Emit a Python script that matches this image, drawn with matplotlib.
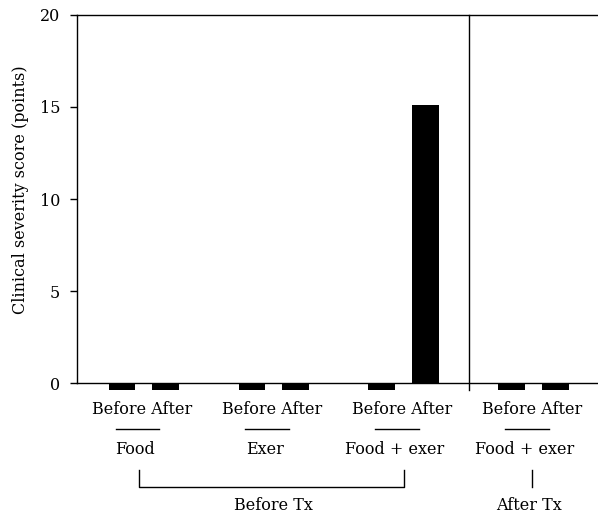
import matplotlib
matplotlib.use('Agg')
import matplotlib.pyplot as plt
import matplotlib.transforms as mtransforms

plt.rcParams['font.family'] = ['DejaVu Serif']
plt.rcParams['font.size'] = 11.5

# --- data ---
groups = ['Food', 'Exer', 'Food + exer', 'Food + exer']
before_vals = [0, 0, 0, 0]
after_vals = [0, 0, 15.1, 0]
phase_labels = ['Before Tx', 'After Tx']
ylabel = 'Clinical severity score (points)'
yticks = [0, 5, 10, 15, 20]

group_x = [0, 3, 6, 9]
bar_w = 0.62
stub = 0.38  # zero scores drawn as a short stub below the axis

fig = plt.figure(figsize=(5.98, 5.16), dpi=100)
ax = fig.add_axes([77 / 598, 1 - 383 / 516, 1 - 77 / 598, (383 - 15) / 516])


def bar_heights(vals):
    return [v if v > 0 else -stub for v in vals]


ax.bar([g - 0.5 for g in group_x], bar_heights(before_vals), width=bar_w,
       color='black', clip_on=False, zorder=3)
ax.bar([g + 0.5 for g in group_x], bar_heights(after_vals), width=bar_w,
       color='black', clip_on=False, zorder=3)

ax.set_xlim(-1.54, 10.49)
ax.set_ylim(0, 20)
ax.set_yticks(yticks)
ax.set_xticks([])
ax.set_ylabel(ylabel)
ax.yaxis.set_label_coords(-0.092, 0.524)
ax.spines['right'].set_visible(False)
for s in ['left', 'top', 'bottom']:
    ax.spines[s].set_linewidth(1.0)
ax.tick_params(axis='y', direction='out', length=5, width=1.0, pad=7)

# divider between before/after treatment
div_x = (group_x[2] + group_x[3]) / 2
ax.plot([div_x, div_x], [-stub, 20], color='black', lw=1.0, clip_on=False, zorder=4)

# labels under the axis: x in data, y in figure pixels from top
trans = mtransforms.blended_transform_factory(ax.transData, fig.transFigure)


def fy(py):
    return 1 - py / 516


for g, name in zip(group_x, groups):
    ax.text(g - 0.03, fy(410), 'Before After', transform=trans, ha='center', va='center')
    ax.plot([g - 0.65, g + 0.35], [fy(429), fy(429)], color='black', lw=1.0,
            transform=trans, clip_on=False)
    ax.text(g - 0.2, fy(450), name, transform=trans, ha='center', va='center')

# bracket for the before-treatment groups
ax.plot([group_x[0] - 0.1, group_x[0] - 0.1, group_x[2], group_x[2]],
        [fy(470), fy(487), fy(487), fy(470)], color='black', lw=1.0,
        transform=trans, clip_on=False)
ax.text(group_x[1], fy(505), phase_labels[0], transform=trans, ha='center', va='center')

ax.plot([group_x[3] - 0.03, group_x[3] - 0.03], [fy(470), fy(487)], color='black', lw=1.0,
        transform=trans, clip_on=False)
ax.text(group_x[3] - 0.1, fy(505), phase_labels[1], transform=trans, ha='center', va='center')

fig.savefig('out.png', dpi=100)
